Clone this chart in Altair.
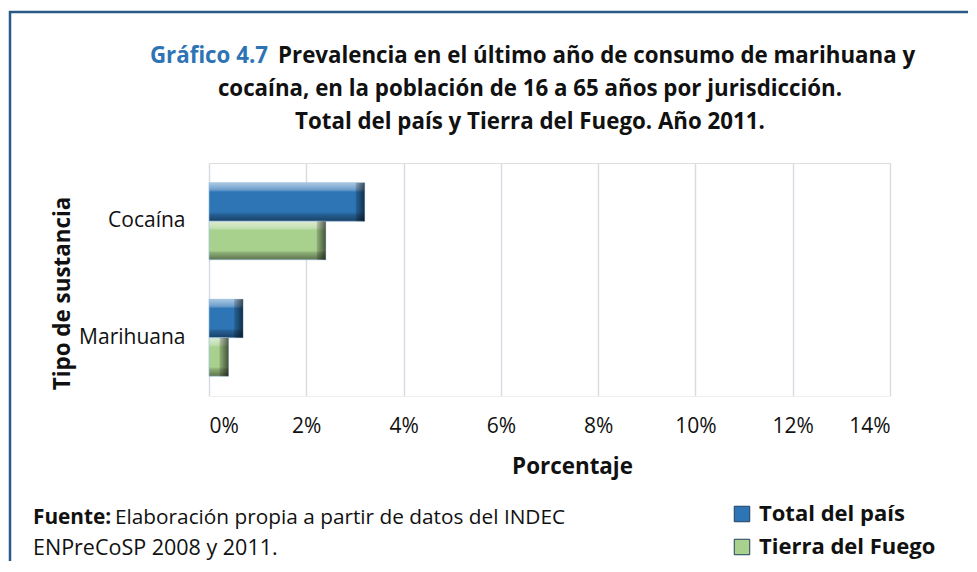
import altair as alt
import pandas as pd

# ---------------- data ----------------
categories = ["Cocaína", "Marihuana"]
series = ["Total del país", "Tierra del Fuego"]
total_pais = [3.2, 0.7]
tierra_fuego = [2.4, 0.4]
x_ticks = [0, 2, 4, 6, 8, 10, 12, 14]

title_blue = "Gráfico 4.7"
title_line1 = "Prevalencia en el último año de consumo de marihuana y"
title_line2 = "cocaína, en la población de 16 a 65 años por jurisdicción."
title_line3 = "Total del país y Tierra del Fuego. Año 2011."
source_bold = "Fuente:"
source_line1 = "Elaboración propia a partir de datos del INDEC"
source_line2 = "ENPreCoSP 2008 y 2011."

rows = []
for i, cat in enumerate(categories):
    rows.append({"categoria": cat, "serie": series[0], "valor": total_pais[i]})
    rows.append({"categoria": cat, "serie": series[1], "valor": tierra_fuego[i]})
df = pd.DataFrame(rows)

FONT = "Open Sans"
BLUE = "#2E75B6"
GREEN = "#A9D18E"
TEXT = "#111111"

x_enc = alt.X(
    "valor:Q",
    scale=alt.Scale(domain=[0, 14], nice=False, zero=True),
    axis=alt.Axis(
        values=x_ticks,
        labelExpr="datum.value + '%'",
        title="Porcentaje",
        grid=True,
        gridColor="#D6DCE4",
        gridWidth=1.5,
        domain=False,
        ticks=False,
        labelFont=FONT,
        labelFontSize=21,
        labelColor=TEXT,
        labelPadding=19,
        titleFont=FONT,
        titleFontSize=22.4,
        titleFontWeight="bold",
        titleColor=TEXT,
        titleX=363,
        titleY=70,
        titleBaseline="middle",
        titleAlign="center",
    ),
)
y_enc = alt.Y(
    "categoria:N",
    sort=categories,
    scale=alt.Scale(paddingInner=0.339, paddingOuter=0.17),
    axis=alt.Axis(
        title="Tipo de sustancia",
        domain=False,
        ticks=False,
        grid=False,
        labelFont=FONT,
        labelFontSize=21,
        labelColor=TEXT,
        labelPadding=24,
        titleFont=FONT,
        titleFontSize=22.4,
        titleFontWeight="bold",
        titleColor=TEXT,
        titleAngle=270,
        titleX=-147,
        titleY=130,
        titleAlign="center",
        titleBaseline="middle",
    ),
)
yoff_enc = alt.YOffset("serie:N", sort=series,
                       scale=alt.Scale(paddingInner=0, paddingOuter=0))

base = alt.Chart(df)

bars = base.mark_bar().encode(
    x=x_enc,
    y=y_enc,
    yOffset=yoff_enc,
    color=alt.Color(
        "serie:N",
        sort=series,
        scale=alt.Scale(domain=series, range=[BLUE, GREEN]),
        legend=alt.Legend(
            title=None,
            orient="none",
            legendX=522,
            legendY=340,
            symbolType="square",
            symbolSize=240,
            symbolStrokeColor="#1F3F5F",
            symbolStrokeWidth=1,
            labelFont=FONT,
            labelFontSize=22,
            labelFontWeight="bold",
            labelColor=TEXT,
            labelOffset=6,
            labelLimit=400,
            rowPadding=11,
            padding=0,
        ),
    ),
)

vgrad = alt.LinearGradient(
    gradient="linear",
    x1=0, x2=0, y1=0, y2=1,
    stops=[
        alt.GradientStop(offset=0, color="rgba(255,255,255,0.6)"),
        alt.GradientStop(offset=0.18, color="rgba(255,255,255,0.3)"),
        alt.GradientStop(offset=0.24, color="rgba(255,255,255,0)"),
        alt.GradientStop(offset=0.76, color="rgba(0,0,0,0)"),
        alt.GradientStop(offset=0.82, color="rgba(0,0,0,0.18)"),
        alt.GradientStop(offset=1, color="rgba(0,0,0,0.45)"),
    ],
)
shade = base.mark_bar(fill=vgrad, stroke="#9CC2E5", strokeWidth=1, strokeOpacity=0.6).encode(
    x=x_enc, y=y_enc, yOffset=yoff_enc
)

hgrad = alt.LinearGradient(
    gradient="linear",
    x1=0, x2=1, y1=0, y2=0,
    stops=[
        alt.GradientStop(offset=0, color="rgba(0,0,0,0.15)"),
        alt.GradientStop(offset=1, color="rgba(0,0,0,0.6)"),
    ],
)
cap = base.mark_bar(fill=hgrad, xOffset=-9).encode(
    x=x_enc, x2="valor:Q", y=y_enc, yOffset=yoff_enc
)

one = alt.Data(values=[{"k": 1}])

BORDER = "#2A5A88"
border_top = alt.Chart(one).mark_rule(color=BORDER, strokeWidth=2.5).encode(
    x=alt.value(-200), x2=alt.value(760), y=alt.value(-151)
)
border_left = alt.Chart(one).mark_rule(color=BORDER, strokeWidth=2.5).encode(
    x=alt.value(-199), y=alt.value(-152), y2=alt.value(398)
)
# white mask below the plot area (hides a stray baseline)
mask = alt.Chart(one).mark_rule(color="white", strokeWidth=2.5).encode(
    x=alt.value(-5), x2=alt.value(688), y=alt.value(234.8)
)

def txt(s, x, y, align="left", weight="normal", size=21, color=TEXT):
    return alt.Chart(one).mark_text(
        text=s, align=align, baseline="middle", font=FONT, fontSize=size,
        fontWeight=weight, color=color,
    ).encode(x=alt.value(x), y=alt.value(y))

TS = 22.3
t_blue = txt(title_blue, 59, -107, align="right", weight="bold", size=TS, color="#2E74B5")
t1 = txt(title_line1, 69, -107, align="left", weight="bold", size=TS)
t2 = txt(title_line2, 321, -74, align="center", weight="bold", size=TS)
t3 = txt(title_line3, 321, -41, align="center", weight="bold", size=TS)
s_b = txt(source_bold, -176, 355, weight="bold", size=20.8)
s1 = txt(source_line1, -94, 355, size=20.8)
s2 = txt(source_line2, -176, 386, size=21.5)

chart = alt.layer(
    border_top, border_left, bars, shade, cap, mask, t_blue, t1, t2, t3, s_b, s1, s2
).properties(
    width=681,
    height=233,
    autosize=alt.AutoSizeParams(type="none"),
    padding={"left": 201, "top": 155, "right": 78, "bottom": 165},
).configure_view(
    stroke="transparent", strokeWidth=0
).configure_axis(
    domain=False
).configure(background="white")

chart.save("out.html", embed_options={"renderer": "svg", "actions": False})
